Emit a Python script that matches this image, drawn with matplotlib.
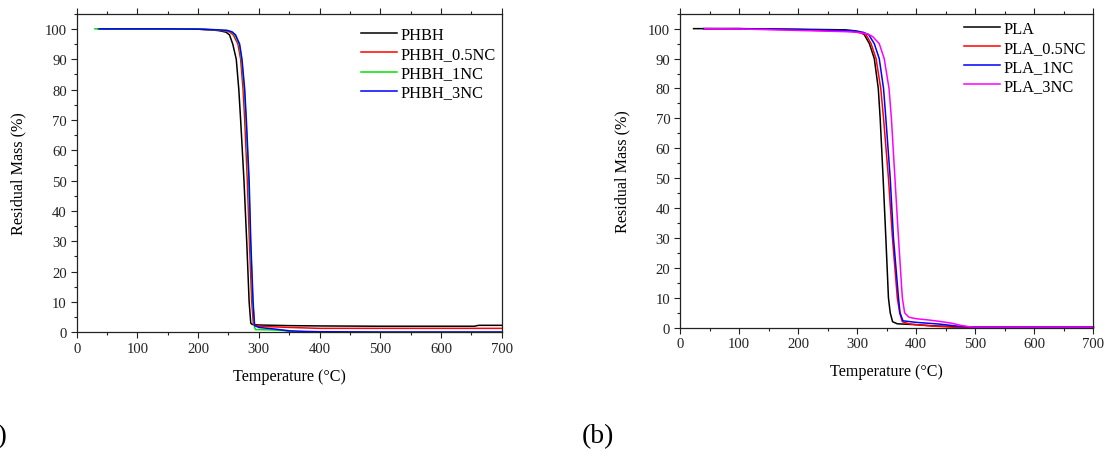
import matplotlib.pyplot as plt
from matplotlib.ticker import MultipleLocator

plt.rcParams['font.family'] = ['Liberation Serif', 'DejaVu Serif']

# ================== DATA ==================

# (a) PHBH series
phbh_t = [40, 100, 150, 200, 220, 235, 246, 251.7, 257, 262.8, 267, 270, 275.5, 280, 284, 286.7, 289,
          300, 350, 400, 500, 600, 655, 662, 700]
phbh_m = [100, 100, 100, 99.9, 99.7, 99.4, 98.9, 98, 95, 90, 80, 70, 50, 30, 10, 3, 2.6,
          2.4, 2.2, 2.1, 2.0, 2.0, 2.0, 2.3, 2.3]

phbh05_t = [35, 100, 150, 200, 230, 245, 251.7, 258, 265.5, 270, 274, 276.7, 281, 284.4, 288.3, 291,
            300, 350, 400, 500, 600, 700]
phbh05_m = [100, 100, 100, 99.9, 99.6, 99.3, 99, 98, 95, 90, 80, 70, 50, 30, 10, 2.5,
            2.0, 1.6, 1.3, 1.3, 1.3, 1.3]

phbh1_t = [30, 100, 150, 200, 230, 248, 255, 260.5, 267.5, 271.5, 276, 278.8, 283.3, 286.2, 290, 293, 294.4,
           320, 340, 350, 370, 400, 500, 600, 700]
phbh1_m = [100, 100, 100, 99.9, 99.7, 99.4, 99, 98, 95, 90, 80, 70, 50, 30, 10, 1.6, 0.9,
           0.8, 0.6, 0.3, 0.0, 0.0, 0.0, 0.0, 0.0]

phbh3_t = [37, 100, 150, 200, 230, 248, 256, 261.7, 268.3, 272.2, 276.7, 279.4, 284, 286.7, 290.5, 293,
           300, 325, 350, 375, 400, 500, 600, 700]
phbh3_m = [100, 100, 100, 99.9, 99.7, 99.5, 99, 98, 95, 90, 80, 70, 50, 30, 10, 2.2,
           1.6, 1.1, 0.5, 0.3, 0.2, 0.1, 0.1, 0.1]

# (b) PLA series
pla_t = [23, 100, 200, 280, 295, 304, 312, 320.7, 329, 335.8, 339, 344, 348.6, 353, 356, 360,
         368, 400, 430, 480, 600, 700]
pla_m = [100, 100, 99.8, 99.6, 99.3, 99, 98, 95, 90, 80, 70, 50, 30, 10, 5, 2,
         1.3, 1.0, 0.6, 0.3, 0.3, 0.3]

pla05_t = [40, 100, 200, 290, 305, 315, 323.5, 332, 340, 344.7, 353, 359.8, 368, 372, 376.5,
           387.7, 400, 430, 470, 600, 700]
pla05_m = [100, 100, 99.6, 99.1, 98.6, 98, 95, 90, 80, 70, 50, 30, 10, 5, 2,
           1.3, 1.0, 0.5, 0.1, 0.2, 0.2]

pla1_t = [40, 100, 200, 290, 310, 319.5, 329, 337.4, 344.7, 348.6, 356, 361.5, 370, 372.6, 377.6,
          399, 440, 470, 500, 600, 700]
pla1_m = [100, 100, 99.7, 99.3, 98.8, 98, 95, 90, 80, 70, 50, 30, 10, 5, 2.3,
          1.8, 1.2, 0.5, 0.2, 0.2, 0.2]

pla3_t = [42, 100, 200, 280, 300, 310, 318, 326, 337.4, 345.8, 354, 358, 364, 370, 376.5, 380.4, 387.7,
          400, 420, 440, 460, 475, 490, 500, 600, 700]
pla3_m = [100, 99.9, 99.4, 99.0, 98.8, 98.5, 98.2, 97.4, 95, 90, 80, 70, 50, 30, 10, 5, 3.5,
          3.0, 2.6, 2.1, 1.5, 0.8, 0.3, 0.2, 0.2, 0.2]

left_series = [
    ("PHBH", phbh_t, phbh_m, "#000000"),
    ("PHBH_0.5NC", phbh05_t, phbh05_m, "#ff0000"),
    ("PHBH_1NC", phbh1_t, phbh1_m, "#00e000"),
    ("PHBH_3NC", phbh3_t, phbh3_m, "#0000ff"),
]
right_series = [
    ("PLA", pla_t, pla_m, "#000000"),
    ("PLA_0.5NC", pla05_t, pla05_m, "#ff0000"),
    ("PLA_1NC", pla1_t, pla1_m, "#0000ff"),
    ("PLA_3NC", pla3_t, pla3_m, "#ff00ff"),
]


# ================== STYLE ==================

def style_axes(ax):
    ax.set_xlim(0, 700)
    ax.set_ylim(0, 105)
    ax.xaxis.set_major_locator(MultipleLocator(100))
    ax.xaxis.set_minor_locator(MultipleLocator(50))
    ax.yaxis.set_major_locator(MultipleLocator(10))
    ax.yaxis.set_minor_locator(MultipleLocator(5))
    ax.tick_params(which='both', direction='out', top=True, right=False,
                   labelsize=10.6, width=0.8, pad=3, colors='#222222')
    ax.tick_params(which='major', length=4)
    ax.tick_params(which='minor', length=2.2)
    for sp in ax.spines.values():
        sp.set_linewidth(0.9)
        sp.set_color('#222222')
    ax.set_xlabel("Temperature (°C)", fontsize=11.6, labelpad=9)
    ax.set_ylabel("Residual Mass (%)", fontsize=11.6, labelpad=13)


fig = plt.figure(figsize=(11.1, 4.52), dpi=100)

ax1 = fig.add_axes([0.0691, 0.2626, 0.3829, 0.7049])
ax2 = fig.add_axes([0.6126, 0.2728, 0.3724, 0.6947])

for ax, series, anchor in [(ax1, left_series, (0.669, 0.958)),
                           (ax2, right_series, (0.687, 0.978))]:
    for name, t, m, c in series:
        ax.plot(t, m, color=c, lw=1.1, label=name, clip_on=False)
    style_axes(ax)
    ax.legend(loc='upper left', bbox_to_anchor=anchor, frameon=False,
              fontsize=11.8, handlelength=2.2, handletextpad=0.2,
              labelspacing=0.19, borderpad=0, borderaxespad=0)

fig.text(7.5 / 1110, 1 - 437 / 452, "(a)", fontsize=20, ha='right', va='center')
fig.text(582 / 1110, 1 - 437 / 452, "(b)", fontsize=20, ha='left', va='center')

fig.savefig("out.png", dpi=100)
